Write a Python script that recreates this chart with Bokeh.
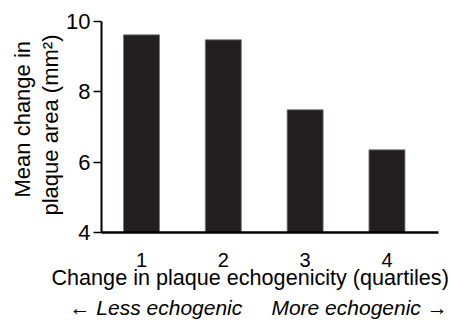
from bokeh.plotting import figure
from bokeh.models import Title, Range1d, FixedTicker
from bokeh.embed import file_html
from bokeh.resources import INLINE

quartiles = [1, 2, 3, 4]
mean_change = [9.62, 9.48, 7.49, 6.35]
y_ticks = [4, 6, 8, 10]
x_tick_labels = ["1", "2", "3", "4"]

FONT = "Liberation Sans"
NB = "\u00a0"

p = figure(width=451, height=321, output_backend="svg", toolbar_location=None,
           x_range=Range1d(0.511, 4.63), y_range=Range1d(4, 10),
           min_border_left=101, min_border_right=13, min_border_top=21, min_border_bottom=89)
p.outline_line_color = None
p.xgrid.visible = False
p.ygrid.visible = False

p.vbar(x=quartiles, top=mean_change, bottom=4, width=0.44,
       fill_color="#231f20", line_color="#777777", line_width=0.8)

# y axis
p.yaxis.ticker = FixedTicker(ticks=y_ticks)
p.yaxis.axis_line_width = 2
p.yaxis.axis_line_color = "black"
p.yaxis.major_tick_in = 0
p.yaxis.major_tick_out = 8
p.yaxis.major_tick_line_width = 1.5
p.yaxis.minor_tick_line_color = None
p.yaxis.major_label_standoff = 3
p.yaxis.major_label_text_font = FONT
p.yaxis.major_label_text_font_size = "22px"
p.yaxis.major_label_text_color = "black"

# x axis
p.xaxis.ticker = FixedTicker(ticks=quartiles)
p.xaxis.major_label_overrides = {q: t for q, t in zip(quartiles, x_tick_labels)}
p.xaxis.axis_line_width = 2.5
p.xaxis.axis_line_color = "black"
p.xaxis.major_tick_in = 0
p.xaxis.major_tick_out = 0
p.xaxis.minor_tick_line_color = None
p.xaxis.major_label_standoff = 20
p.xaxis.major_label_text_font = FONT
p.xaxis.major_label_text_font_size = "20px"
p.xaxis.major_label_text_color = "black"

def title(text, side, offset, **kw):
    opts = dict(text_font=FONT, text_font_size="22px", text_color="black",
                text_font_style="normal", align="left", offset=offset, standoff=0)
    opts.update(kw)
    p.add_layout(Title(text=text, **opts), side)

title("Change in plaque echogenicity (quartiles)", "below", -50,
      text_font_size="21.6px", standoff=-13)
# spacer row, then the italic direction line
title(NB, "below", 0, text_font_size="10px")
title("\u2190 Less echogenic" + " " + NB * 4 + "More echogenic \u2192", "below", -32,
      text_font_style="italic", text_font_size="21px", standoff=-6)
title("plaque area (mm\u00b2)", "left", 17, standoff=2)
title("Mean change in", "left", 35)

open("out.html", "w").write(file_html(p, INLINE))
